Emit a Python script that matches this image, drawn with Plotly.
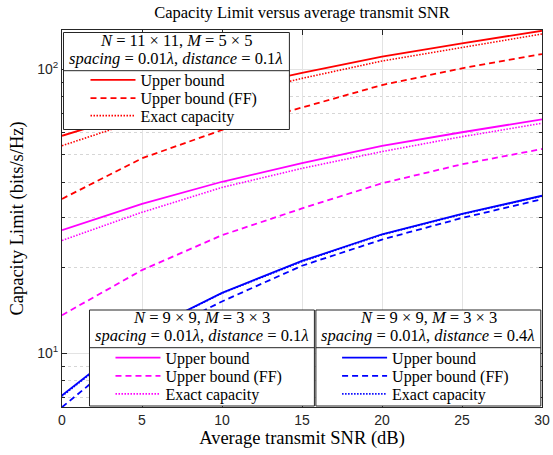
import plotly.graph_objects as go
import math

# ---------------- data ----------------
snr_db = [0, 5, 10, 15, 20, 25, 30]

red_upper = [58.2, 71.0, 84.0, 97.0, 110.5, 123.2, 136.4]
red_upper_ff = [34.9, 48.5, 61.0, 73.4, 87.8, 100.6, 112.9]
red_exact = [53.7, 66.5, 79.5, 92.7, 106.7, 118.9, 132.8]

mag_upper = [27.1, 33.5, 40.1, 46.6, 53.6, 59.9, 66.5]
mag_upper_ff = [13.6, 19.6, 26.0, 32.3, 39.6, 46.2, 52.3]
mag_exact = [24.9, 31.3, 38.3, 44.7, 51.2, 57.8, 64.4]

blue_upper = [7.1, 11.8, 16.3, 21.1, 26.2, 30.9, 35.8]
blue_upper_ff = [6.45, 11.0, 15.2, 20.3, 25.1, 29.9, 34.8]
blue_exact = [7.05, 11.75, 16.25, 21.0, 26.1, 30.8, 35.7]

series_names = ["Upper bound", "Upper bound (FF)", "Exact capacity"]
x_ticks = [0, 5, 10, 15, 20, 25, 30]
y_major = [10, 100]
y_major_text = ["10<sup>1</sup>", "10<sup>2</sup>"]
y_minor = [7, 8, 9, 20, 30, 40, 50, 60, 70, 80, 90]

legend_titles = [
    ("<i>N</i> = 11 × 11, <i>M</i> = 5 × 5",
     "<i>spacing</i> = 0.01<i>λ</i>, <i>distance</i> = 0.1<i>λ</i>"),
    ("<i>N</i> = 9 × 9, <i>M</i> = 3 × 3",
     "<i>spacing</i> = 0.01<i>λ</i>, <i>distance</i> = 0.1<i>λ</i>"),
    ("<i>N</i> = 9 × 9, <i>M</i> = 3 × 3",
     "<i>spacing</i> = 0.01<i>λ</i>, <i>distance</i> = 0.4<i>λ</i>"),
]

# ---------------- layout geometry (page pixels) ----------------
W, H = 553, 455
PLOT_L, PLOT_R, PLOT_T, PLOT_B = 61.5, 541.7, 30, 407
L, R, T, B = PLOT_L, W - PLOT_R, PLOT_T, H - PLOT_B
PW, PH = W - L - R, H - T - B


def px_x(px):
    return (px - L) / PW


def px_y(py):
    return (H - B - py) / PH


SERIF = "Liberation Serif"
SANS = "Liberation Sans"

# legend boxes: left, top, right, bottom, separator, text start, title ys, item ys
boxes = [
    (63, 32.5, 289, 129.5, 70.7, 140, (41, 58.3), (80, 98.3, 115.7)),
    (89, 310, 314, 406, 347.7, 165, (317, 335), (357.7, 376, 394)),
    (315.5, 310, 540.5, 406, 347.7, 391.7, (317, 335), (357.7, 376, 394)),
]

groups = [
    ("#ff0000", [red_upper, red_upper_ff, red_exact]),
    ("#ff00ff", [mag_upper, mag_upper_ff, mag_exact]),
    ("#0000ff", [blue_upper, blue_upper_ff, blue_exact]),
]
styles = [
    dict(dash="solid", width=1.8),
    dict(dash="6px,4px", width=1.8),
    dict(dash="1.5px,1.5px", width=1.6),
]

fig = go.Figure()
shapes = []
annotations = []
legends = {}
k = 0
for gi, (color, series) in enumerate(groups):
    x0, y0, x1, y1, ysep, tstart, tys, iys = boxes[gi]
    for name, vals, st, iy in zip(series_names, series, styles, iys):
        k += 1
        key = "legend" if k == 1 else f"legend{k}"
        fig.add_trace(go.Scatter(
            x=snr_db, y=vals, mode="lines", name=name, legend=key,
            line=dict(color=color, **st), showlegend=True,
        ))
        legends[key] = dict(
            x=px_x(tstart - 55), y=px_y(iy), xanchor="left", yanchor="middle",
            bgcolor="rgba(0,0,0,0)", borderwidth=0, itemwidth=45,
            font=dict(family=SERIF, size=16, color="black"),
        )
    shapes.append(dict(type="rect", xref="paper", yref="paper",
                       x0=px_x(x0), x1=px_x(x1), y0=px_y(y1), y1=px_y(y0),
                       fillcolor="white", line=dict(color="#262626", width=1),
                       layer="above"))
    shapes.append(dict(type="line", xref="paper", yref="paper",
                       x0=px_x(x0), x1=px_x(x1), y0=px_y(ysep), y1=px_y(ysep),
                       line=dict(color="#262626", width=1), layer="above"))
    for txt, ty in zip(legend_titles[gi], tys):
        annotations.append(dict(text=txt, xref="paper", yref="paper",
                                x=px_x((x0 + x1) / 2), y=px_y(ty),
                                xanchor="center", yanchor="middle",
                                showarrow=False,
                                font=dict(family=SERIF, size=16.5, color="black")))

fig.update_layout(
    width=W, height=H,
    margin=dict(l=L, r=R, t=T, b=B, pad=0, autoexpand=False),
    paper_bgcolor="white", plot_bgcolor="white",
    title=dict(text="Capacity Limit versus average transmit SNR",
               x=px_x((PLOT_L + PLOT_R) / 2), xref="paper", xanchor="center",
               y=1 - 12.5 / H, yref="container", yanchor="middle",
               font=dict(family=SERIF, size=16.5, color="black")),
    shapes=shapes, annotations=annotations,
    **legends,
)

axis_common = dict(
    showline=True, linecolor="#262626", linewidth=1, mirror="ticks",
    ticks="inside", ticklen=5, tickcolor="#262626", tickwidth=1,
    zeroline=False, showgrid=True, gridcolor="#e3e3e3", gridwidth=1,
    tickfont=dict(family=SANS, size=14, color="#262626"),
    automargin=False,
)

fig.update_xaxes(
    **axis_common, range=[0, 30], tickmode="array", tickvals=x_ticks,
    title=dict(text="Average transmit SNR (dB)", standoff=4,
               font=dict(family=SERIF, size=18.5, color="black")),
)
fig.update_yaxes(
    **axis_common, type="log",
    range=[math.log10(6.46), math.log10(137.2)],
    tickmode="array", tickvals=y_major, ticktext=y_major_text,
    minor=dict(tickmode="array", tickvals=y_minor, ticks="inside", ticklen=3,
               tickcolor="#262626", showgrid=True, gridcolor="#d6d6d6",
               griddash="dot", gridwidth=1),
    title=dict(text="Capacity Limit (bits/s/Hz)", standoff=8,
               font=dict(family=SERIF, size=18.5, color="black")),
)

# remove the default 8 px page margin so the figure fills the window
fig.write_html("out.html", config={"displayModeBar": False},
               post_script="document.body.style.margin='0';")
